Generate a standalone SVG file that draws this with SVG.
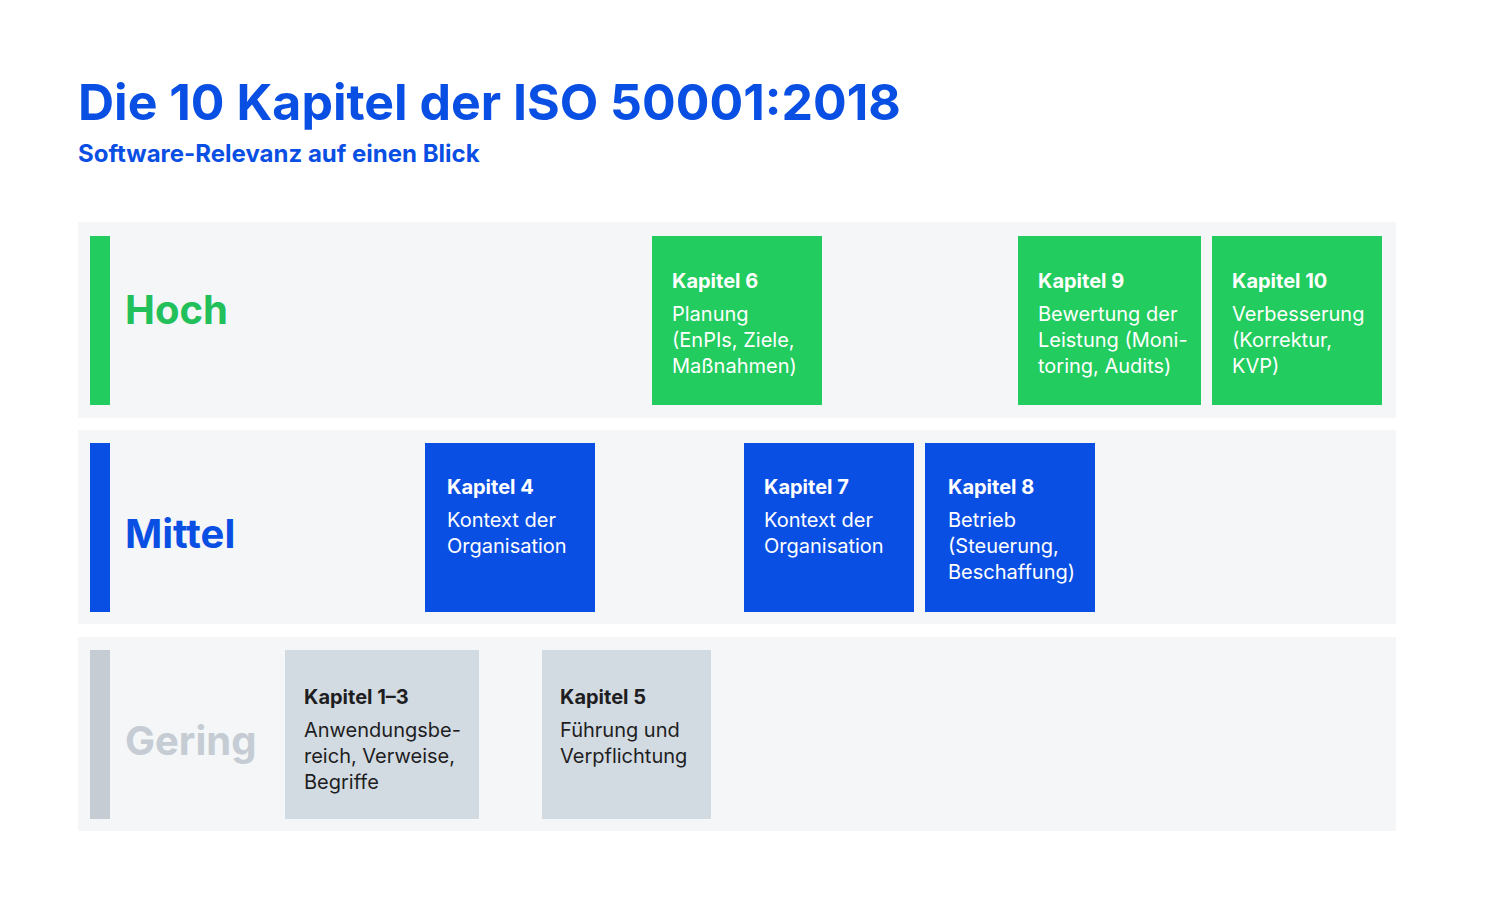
<svg xmlns="http://www.w3.org/2000/svg" width="1500" height="924" viewBox="0 0 1500 924">
<style>
text{font-family:"Inter","Liberation Sans",sans-serif}
.row{fill:#f4f6f8}
.g{fill:#22cc5e}.b{fill:#0a4fe3}.gr{fill:#d3dbe2}
.t{font-size:20px;font-weight:700}
.d{font-size:20px;font-weight:400}
.w{fill:#fff}.k{fill:#1e1e22}
.lab{font-size:40px;font-weight:700}
</style>
<rect width="1500" height="924" fill="#fff"/>
<text x="78" y="120" font-size="50" font-weight="700" fill="#0a4fe3">Die 10 Kapitel der ISO 50001:2018</text>
<text x="78" y="162" font-size="24" font-weight="700" fill="#0a4fe3">Software-Relevanz auf einen Blick</text>
<g id="row-hoch">
<rect class="row" x="78" y="222" width="1318" height="196"/>
<rect class="g" x="90" y="236" width="20" height="169"/>
<text class="lab" x="125" y="324" fill="#22c05a">Hoch</text>
</g>
<g id="row-mittel">
<rect class="row" x="78" y="430" width="1318" height="194"/>
<rect class="b" x="90" y="443" width="20" height="169"/>
<text class="lab" x="125" y="548" fill="#0a4fe3">Mittel</text>
</g>
<g id="row-gering">
<rect class="row" x="78" y="637" width="1318" height="194"/>
<rect fill="#c5ccd3" x="90" y="650" width="20" height="169"/>
<text class="lab" x="125" y="755" fill="#c5ccd3">Gering</text>
</g>
<g id="k6"><rect class="g" x="652" y="236" width="170" height="169"/>
<text class="t w" x="672" y="288">Kapitel 6</text>
<text class="d w" x="672" y="321">Planung</text><text class="d w" x="672" y="347">(EnPIs, Ziele,</text><text class="d w" x="672" y="373">Maßnahmen)</text></g>
<g id="k9"><rect class="g" x="1018" y="236" width="183" height="169"/>
<text class="t w" x="1038" y="288">Kapitel 9</text>
<text class="d w" x="1038" y="321">Bewertung der</text><text class="d w" x="1038" y="347">Leistung (Moni-</text><text class="d w" x="1038" y="373">toring, Audits)</text></g>
<g id="k10"><rect class="g" x="1212" y="236" width="170" height="169"/>
<text class="t w" x="1232" y="288">Kapitel 10</text>
<text class="d w" x="1232" y="321">Verbesserung</text><text class="d w" x="1232" y="347">(Korrektur,</text><text class="d w" x="1232" y="373">KVP)</text></g>
<g id="k4"><rect class="b" x="425" y="443" width="170" height="169"/>
<text class="t w" x="447" y="494">Kapitel 4</text>
<text class="d w" x="447" y="527">Kontext der</text><text class="d w" x="447" y="553">Organisation</text></g>
<g id="k7"><rect class="b" x="744" y="443" width="170" height="169"/>
<text class="t w" x="764" y="494">Kapitel 7</text>
<text class="d w" x="764" y="527">Kontext der</text><text class="d w" x="764" y="553">Organisation</text></g>
<g id="k8"><rect class="b" x="925" y="443" width="170" height="169"/>
<text class="t w" x="948" y="494">Kapitel 8</text>
<text class="d w" x="948" y="527">Betrieb</text><text class="d w" x="948" y="553">(Steuerung,</text><text class="d w" x="948" y="579">Beschaffung)</text></g>
<g id="k1-3"><rect class="gr" x="285" y="650" width="194" height="169"/>
<text class="t k" x="304" y="704">Kapitel 1–3</text>
<text class="d k" x="304" y="737">Anwendungsbe-</text><text class="d k" x="304" y="763">reich, Verweise,</text><text class="d k" x="304" y="789">Begriffe</text></g>
<g id="k5"><rect class="gr" x="542" y="650" width="169" height="169"/>
<text class="t k" x="560" y="704">Kapitel 5</text>
<text class="d k" x="560" y="737">Führung und</text><text class="d k" x="560" y="763">Verpflichtung</text></g>
<g id="connectors"/>
</svg>
